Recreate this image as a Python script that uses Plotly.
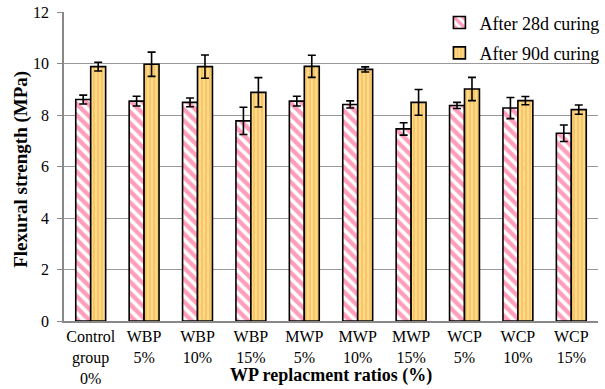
import plotly.graph_objects as go

categories = ["Control<br>group<br>0%", "WBP<br>5%", "WBP<br>10%", "WBP<br>15%",
              "MWP<br>5%", "MWP<br>10%", "MWP<br>15%", "WCP<br>5%", "WCP<br>10%", "WCP<br>15%"]
strength_28d = [8.60, 8.54, 8.49, 7.77, 8.54, 8.41, 7.46, 8.37, 8.27, 7.29]
error_28d = [0.17, 0.19, 0.17, 0.53, 0.19, 0.14, 0.24, 0.12, 0.41, 0.32]
strength_90d = [9.88, 9.97, 9.88, 8.88, 9.89, 9.77, 8.49, 9.01, 8.56, 8.21]
error_90d = [0.17, 0.47, 0.45, 0.57, 0.43, 0.10, 0.50, 0.45, 0.16, 0.18]
y_ticks = [0, 2, 4, 6, 8, 10, 12]

serif = "Liberation Serif"

fig = go.Figure()
fig.add_trace(go.Bar(
    x=categories, y=strength_28d, name="After 28d curing",
    legendgroup="a",
    marker=dict(color="white", line=dict(color="black", width=1.6),
                pattern=dict(shape="\\", fgcolor="#FF3D78", bgcolor="white",
                             size=8, solidity=0.55, fillmode="overlay")),
    error_y=dict(type="data", array=error_28d, color="black", thickness=1.6, width=4),
))
fig.add_trace(go.Bar(
    x=categories, y=strength_90d, name="After 90d curing",
    legendgroup="b",
    marker=dict(color="#FFF0B8", line=dict(color="black", width=1.6),
                pattern=dict(shape="|", fgcolor="#F89A10", bgcolor="#FFF0B8",
                             size=4, solidity=0.75, fillmode="overlay")),
    error_y=dict(type="data", array=error_90d, color="black", thickness=1.6, width=4),
))

fig.update_layout(
    width=605, height=389,
    margin=dict(l=64, r=1, t=12, b=68),
    paper_bgcolor="white", plot_bgcolor="white",
    barmode="group", bargap=0.44, bargroupgap=0.0,
    font=dict(family=serif, size=16, color="black"),
    showlegend=True,
    legend=dict(x=1.012, y=1.025, xanchor="right", yanchor="top",
                bgcolor="rgba(255,255,255,0)", traceorder="grouped",
                tracegroupgap=4, font=dict(family=serif, size=18),
                itemwidth=30),
    xaxis=dict(showline=True, linecolor="#888888", linewidth=1.5,
               ticks="", automargin=False,
               tickfont=dict(family=serif, size=16)),
    yaxis=dict(range=[0, 12], tickvals=y_ticks, showgrid=True,
               gridcolor="#999999", gridwidth=1.3, showline=True,
               linecolor="#888888", linewidth=1.5, ticks="outside",
               tickcolor="#888888", ticklen=5, zeroline=False,
               automargin=False, ticklabelstandoff=5,
               tickfont=dict(family=serif, size=16)),
    annotations=[
        dict(text="<b>WP replacment ratios (%)</b>", x=0.5, y=-0.213,
             xref="paper", yref="paper", xanchor="center", yanchor="bottom",
             showarrow=False, borderpad=0, font=dict(family=serif, size=18)),
        dict(text="<b>Flexural strength (MPa)</b>", x=-0.082, y=0.49,
             xref="paper", yref="paper", xanchor="center", yanchor="middle",
             textangle=-90, showarrow=False, font=dict(family=serif, size=19)),
    ],
)

fig.write_html("out.html")
